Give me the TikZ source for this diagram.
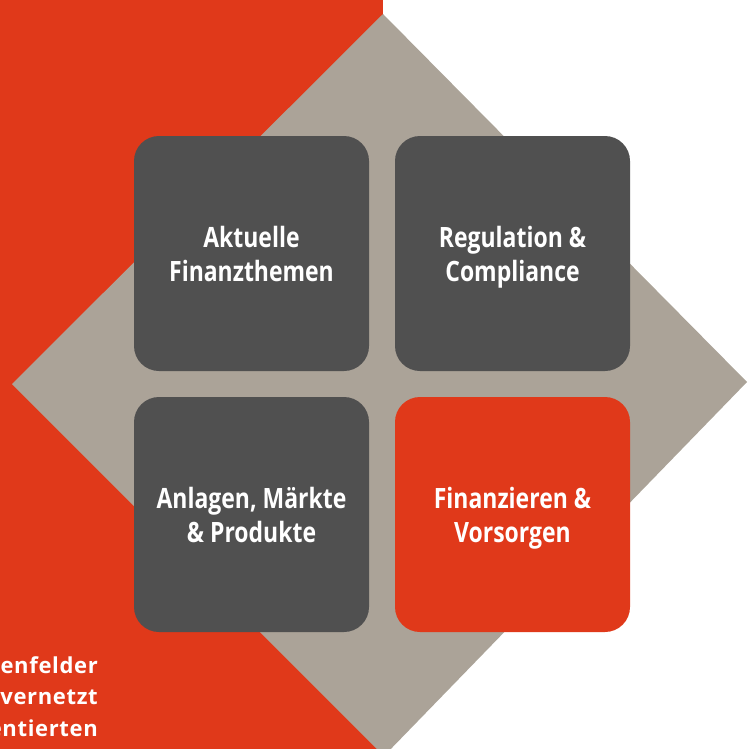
\documentclass[tikz,border=0pt]{standalone}
\usepackage{fontspec}
\setmainfont{Open Sans}
\newfontfamily\boxfont[FakeStretch=0.82]{Open Sans}
\newfontfamily\sidefont[LetterSpace=3]{Open Sans}
\definecolor{brandred}{HTML}{E0391A}
\definecolor{stone}{HTML}{ABA398}
\definecolor{slate}{HTML}{505050}
\newcommand{\topline}{\rule{0pt}{31.2pt}}
\newcommand{\botline}{\rule[-10.2pt]{0pt}{0pt}}
\tikzset{
  tile/.style={minimum width=235pt, minimum height=235pt, rounded corners=25pt,
    align=center, text=white, inner sep=0pt,
    font=\boxfont\bfseries\fontsize{28}{34}\selectfont},
  sidetext/.style={anchor=base east, text=white, inner sep=0pt,
    font=\sidefont\bfseries\fontsize{22}{32}\selectfont}
}
\begin{document}
\begin{tikzpicture}[x=1pt,y=-1pt]
\useasboundingbox (0,0) rectangle (747,749);
\begin{scope}
\clip (0,0) rectangle (747,749);
\fill[brandred] (0,0) rectangle (383,749);
\fill[stone] (383,14) -- (747,382) -- (384,756) -- (12,384) -- cycle;
\end{scope}
\node[tile, fill=slate] (t1) at (251.5,253.5) {\topline Aktuelle\\Finanzthemen\botline};
\node[tile, fill=slate] (t2) at (512.5,253.5) {\topline Regulation \&\\Compliance\botline};
\node[tile, fill=slate] (t3) at (251.5,514.5) {\topline Anlagen, Märkte\\\& Produkte\botline};
\node[tile, fill=brandred] (t4) at (512.5,514.5) {\topline Finanzieren \&\\Vorsorgen\botline};
\node[sidetext] (s1) at (98,673) {enfelder};
\node[sidetext] (s2) at (98,704.5) {vernetzt};
\node[sidetext] (s3) at (98,736.5) {entierten};
\end{tikzpicture}
\end{document}
